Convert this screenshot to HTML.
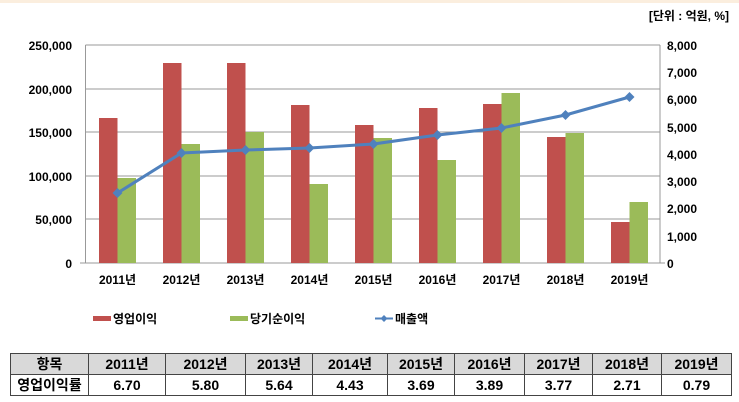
<!DOCTYPE html>
<html><head><meta charset="utf-8"><style>
body{margin:0;background:#fff;width:739px;height:402px;overflow:hidden;font-family:"Liberation Sans","Noto Sans CJK KR",sans-serif;}
table{position:absolute;left:10px;top:353px;border-collapse:collapse;font-weight:bold;font-size:14px;table-layout:fixed;width:721px;}
td{border:1px solid #444;text-align:center;padding:0;height:20px;overflow:hidden;white-space:nowrap;}
tr.h td{background:#d9d9d9;}
</style></head><body>
<div style="position:absolute;left:0;top:0;width:739px;height:3px;background:#fbeede"></div>
<svg width="739" height="350" style="position:absolute;left:0;top:0" font-family="Liberation Sans, Noto Sans CJK KR, sans-serif" font-weight="bold" font-size="12">
<text x="729" y="20" text-anchor="end" font-size="12">[단위 : 억원, %]</text>
<g stroke="#999" stroke-width="1">
<line x1="85.5" y1="45" x2="660" y2="45"/><line x1="85.5" y1="89" x2="660" y2="89"/><line x1="85.5" y1="132" x2="660" y2="132"/><line x1="85.5" y1="176" x2="660" y2="176"/><line x1="85.5" y1="219" x2="660" y2="219"/>
<line x1="85.5" y1="45" x2="85.5" y2="263"/><line x1="660" y1="45" x2="660" y2="263"/>
<line x1="80" y1="263" x2="665" y2="263"/>
</g>
<g fill="#c0504d">
<rect x="99" y="118" width="18.5" height="145"/><rect x="163" y="63" width="18.5" height="200"/><rect x="227" y="63" width="18.5" height="200"/><rect x="291" y="105" width="18.5" height="158"/><rect x="355" y="125" width="18.5" height="138"/><rect x="419" y="108" width="18.5" height="155"/><rect x="483" y="104" width="18.5" height="159"/><rect x="547" y="137" width="18.5" height="126"/><rect x="611" y="222" width="18.5" height="41"/>
</g>
<g fill="#9bbb59">
<rect x="117.5" y="178" width="18.5" height="85"/><rect x="181.5" y="144" width="18.5" height="119"/><rect x="245.5" y="132" width="18.5" height="131"/><rect x="309.5" y="184" width="18.5" height="79"/><rect x="373.5" y="138" width="18.5" height="125"/><rect x="437.5" y="160" width="18.5" height="103"/><rect x="501.5" y="93" width="18.5" height="170"/><rect x="565.5" y="133" width="18.5" height="130"/><rect x="629.5" y="202" width="18.5" height="61"/>
</g>
<polyline fill="none" stroke="#4f81bd" stroke-width="3" points="117.5,193 181.5,153 245.5,150 309.5,148 373.5,144 437.5,135 501.5,128 565.5,115 629.5,97"/>
<g fill="#4f81bd">
<path d="M117.5,188l5,5-5,5-5-5z"/><path d="M181.5,148l5,5-5,5-5-5z"/><path d="M245.5,145l5,5-5,5-5-5z"/><path d="M309.5,143l5,5-5,5-5-5z"/><path d="M373.5,139l5,5-5,5-5-5z"/><path d="M437.5,130l5,5-5,5-5-5z"/><path d="M501.5,123l5,5-5,5-5-5z"/><path d="M565.5,110l5,5-5,5-5-5z"/><path d="M629.5,92l5,5-5,5-5-5z"/>
</g>
<g text-anchor="end">
<text x="72" y="50">250,000</text><text x="72" y="94">200,000</text><text x="72" y="137">150,000</text><text x="72" y="181">100,000</text><text x="72" y="224">50,000</text><text x="72" y="268">0</text>
</g>
<g>
<text x="667" y="50">8,000</text><text x="667" y="77">7,000</text><text x="667" y="104">6,000</text><text x="667" y="132">5,000</text><text x="667" y="159">4,000</text><text x="667" y="186">3,000</text><text x="667" y="213">2,000</text><text x="667" y="241">1,000</text><text x="667" y="268">0</text>
</g>
<g text-anchor="middle">
<text x="117.5" y="284">2011년</text><text x="181.5" y="284">2012년</text><text x="245.5" y="284">2013년</text><text x="309.5" y="284">2014년</text><text x="373.5" y="284">2015년</text><text x="437.5" y="284">2016년</text><text x="501.5" y="284">2017년</text><text x="565.5" y="284">2018년</text><text x="629.5" y="284">2019년</text>
</g>
<rect x="93" y="316" width="18" height="5" fill="#c0504d"/><text x="113" y="323">영업이익</text>
<rect x="230" y="316" width="18" height="5" fill="#9bbb59"/><text x="250" y="323">당기순이익</text>
<line x1="375" y1="318.5" x2="393" y2="318.5" stroke="#4f81bd" stroke-width="2"/><path d="M384,315l3.5,3.5-3.5,3.5-3.5-3.5z" fill="#4f81bd"/><text x="395" y="323">매출액</text>
</svg>
<table>
<colgroup><col style="width:78px"><col style="width:77px"><col style="width:80px"><col style="width:67px"><col style="width:75px"><col style="width:67px"><col style="width:70px"><col style="width:68px"><col style="width:69px"><col style="width:70px"></colgroup>
<tr class="h"><td>항목</td><td>2011년</td><td>2012년</td><td>2013년</td><td>2014년</td><td>2015년</td><td>2016년</td><td>2017년</td><td>2018년</td><td>2019년</td></tr>
<tr><td>영업이익률</td><td>6.70</td><td>5.80</td><td>5.64</td><td>4.43</td><td>3.69</td><td>3.89</td><td>3.77</td><td>2.71</td><td>0.79</td></tr>
</table>
</body></html>
